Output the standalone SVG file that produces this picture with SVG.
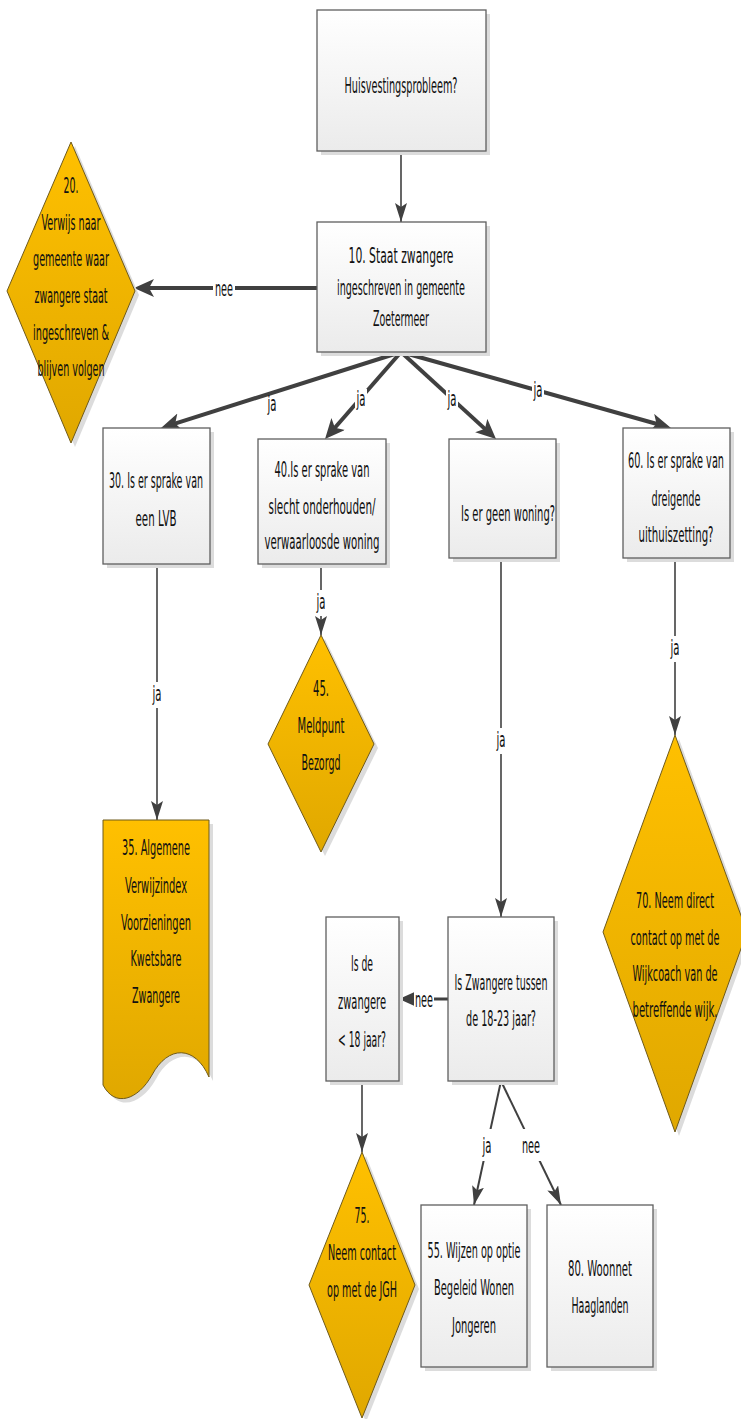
<svg xmlns="http://www.w3.org/2000/svg" width="741" height="1419" viewBox="0 0 741 1419">
<style>
.sh{fill:#dcdcdc}
.box{fill:url(#gBox);stroke:#5f5f5f;stroke-width:1.3}
.gold{fill:url(#gGold);stroke:#6f5a1a;stroke-width:1}
text{font-family:"Liberation Sans Narrow","DejaVu Sans Condensed","Liberation Sans",sans-serif;font-size:22px;fill:#111;text-anchor:middle}
.c{stroke:#404040;fill:none}
.thick{stroke-width:4}
.mid{stroke-width:3}
.thin{stroke-width:1.6}
.lb{fill:#ffffff}
</style>
<defs>
<linearGradient id="gBox" x1="0" y1="0" x2="0" y2="1"><stop offset="0" stop-color="#ffffff"/><stop offset="1" stop-color="#ebebeb"/></linearGradient>
<linearGradient id="gGold" x1="0" y1="0" x2="0" y2="1"><stop offset="0" stop-color="#ffc000"/><stop offset="1" stop-color="#e0a800"/></linearGradient>
<marker id="ab" markerUnits="userSpaceOnUse" markerWidth="24" markerHeight="20" refX="12" refY="9" orient="auto"><path d="M0,0 L20,9 L0,18 L5,9 Z" fill="#404040"/></marker>
<marker id="as" markerUnits="userSpaceOnUse" markerWidth="22" markerHeight="14" refX="19" refY="6" orient="auto"><path d="M0,0 L19,6 L0,12 L4,6 Z" fill="#404040"/></marker>
</defs>

<g id="connectors">
<line class="c thin" x1="401" y1="151" x2="401" y2="222" marker-end="url(#as)"/>
<line class="c thick" x1="317" y1="288" x2="142" y2="288" marker-end="url(#ab)"/>
<rect class="lb" x="213" y="279" width="22" height="18"/>
<text x="224" y="296" textLength="18" lengthAdjust="spacingAndGlyphs">nee</text>
<line class="c thick" x1="401" y1="352" x2="168.6" y2="425.6" marker-end="url(#ab)"/>
<text x="272" y="411" textLength="9" lengthAdjust="spacingAndGlyphs">ja</text>
<line class="c thick" x1="401" y1="352" x2="330.3" y2="433" marker-end="url(#ab)"/>
<rect class="lb" x="355" y="389" width="12" height="22"/>
<text x="361" y="406" textLength="9" lengthAdjust="spacingAndGlyphs">ja</text>
<line class="c thick" x1="401" y1="352" x2="490.1" y2="433.6" marker-end="url(#ab)"/>
<rect class="lb" x="446" y="389" width="12" height="22"/>
<text x="452" y="406" textLength="9" lengthAdjust="spacingAndGlyphs">ja</text>
<line class="c thick" x1="401" y1="352" x2="663.3" y2="425.8" marker-end="url(#ab)"/>
<rect class="lb" x="532" y="380" width="12" height="22"/>
<text x="538" y="397" textLength="9" lengthAdjust="spacingAndGlyphs">ja</text>
<line class="c thin" x1="157" y1="564" x2="157" y2="820" marker-end="url(#as)"/>
<rect class="lb" x="150" y="682" width="14" height="26"/>
<text x="157" y="701" textLength="9" lengthAdjust="spacingAndGlyphs">ja</text>
<line class="c thin" x1="321" y1="564" x2="321" y2="635" marker-end="url(#as)"/>
<rect class="lb" x="314" y="590" width="14" height="26"/>
<text x="321" y="609" textLength="9" lengthAdjust="spacingAndGlyphs">ja</text>
<line class="c thin" x1="501" y1="558" x2="501" y2="917" marker-end="url(#as)"/>
<rect class="lb" x="494" y="728" width="14" height="26"/>
<text x="501" y="747" textLength="9" lengthAdjust="spacingAndGlyphs">ja</text>
<line class="c thin" x1="675" y1="558" x2="675" y2="735" marker-end="url(#as)"/>
<rect class="lb" x="668" y="636" width="14" height="26"/>
<text x="675" y="655" textLength="9" lengthAdjust="spacingAndGlyphs">ja</text>
<line class="c mid" x1="448" y1="999" x2="407" y2="999" marker-end="url(#ab)"/>
<rect class="lb" x="414" y="989" width="20" height="20"/>
<text x="424" y="1007" textLength="18" lengthAdjust="spacingAndGlyphs">nee</text>
<line class="c thin" x1="362" y1="1081" x2="362" y2="1152" marker-end="url(#as)"/>
<line class="c" stroke-width="2" x1="501" y1="1081" x2="474" y2="1205" marker-end="url(#as)"/>
<rect class="lb" x="480" y="1129" width="14" height="32"/>
<text x="487" y="1153" textLength="9" lengthAdjust="spacingAndGlyphs">ja</text>
<line class="c" stroke-width="2" x1="501" y1="1081" x2="561" y2="1205" marker-end="url(#as)"/>
<rect class="lb" x="519" y="1129" width="24" height="32"/>
<text x="531" y="1153" textLength="18" lengthAdjust="spacingAndGlyphs">nee</text>
</g>

<g id="n-start">
<rect class="sh" x="321" y="14" width="169" height="141"/>
<rect class="box" x="317" y="10" width="169" height="141"/>
<text x="401" y="93" textLength="113" lengthAdjust="spacingAndGlyphs">Huisvestingsprobleem?</text>
</g>

<g id="n10">
<rect class="sh" x="321" y="226" width="169" height="130"/>
<rect class="box" x="317" y="222" width="169" height="130"/>
<text x="401" y="263" textLength="105" lengthAdjust="spacingAndGlyphs">10.  Staat zwangere</text>
<text x="401" y="295" textLength="128" lengthAdjust="spacingAndGlyphs">ingeschreven in gemeente</text>
<text x="401" y="326" textLength="56" lengthAdjust="spacingAndGlyphs">Zoetermeer</text>
</g>

<g id="n20">
<polygon class="sh" points="75,146 139,295 75,447 11,295"/>
<polygon class="gold" points="71,142 135,291 71,443 7,291"/>
<text x="71" y="193" textLength="15" lengthAdjust="spacingAndGlyphs">20.</text>
<text x="71" y="230" textLength="59" lengthAdjust="spacingAndGlyphs">Verwijs naar</text>
<text x="71" y="266" textLength="76" lengthAdjust="spacingAndGlyphs">gemeente waar</text>
<text x="71" y="303" textLength="73" lengthAdjust="spacingAndGlyphs">zwangere staat</text>
<text x="71" y="340" textLength="76" lengthAdjust="spacingAndGlyphs">ingeschreven &amp;</text>
<text x="71" y="376" textLength="67" lengthAdjust="spacingAndGlyphs">blijven volgen</text>
</g>

<g id="n30">
<rect class="sh" x="107" y="432" width="107" height="136"/>
<rect class="box" x="103" y="428" width="107" height="136"/>
<text x="156" y="488" textLength="94" lengthAdjust="spacingAndGlyphs">30. Is er sprake van</text>
<text x="156" y="526" textLength="41" lengthAdjust="spacingAndGlyphs">een LVB</text>
</g>

<g id="n40">
<rect class="sh" x="262" y="443" width="128" height="125"/>
<rect class="box" x="258" y="439" width="128" height="125"/>
<text x="322" y="477" textLength="95" lengthAdjust="spacingAndGlyphs">40.Is er sprake van</text>
<text x="322" y="514" textLength="107" lengthAdjust="spacingAndGlyphs">slecht onderhouden/</text>
<text x="322" y="549" textLength="115" lengthAdjust="spacingAndGlyphs">verwaarloosde woning</text>
</g>

<g id="n-geen">
<rect class="sh" x="453" y="443" width="107" height="119"/>
<rect class="box" x="449" y="439" width="107" height="119"/>
<text x="508" y="521" textLength="94" lengthAdjust="spacingAndGlyphs">Is er  geen woning?</text>
</g>

<g id="n60">
<rect class="sh" x="627" y="432" width="107" height="130"/>
<rect class="box" x="623" y="428" width="107" height="130"/>
<text x="676" y="468" textLength="96" lengthAdjust="spacingAndGlyphs">60. Is er sprake van</text>
<text x="676" y="506" textLength="49" lengthAdjust="spacingAndGlyphs">dreigende</text>
<text x="676" y="542" textLength="75" lengthAdjust="spacingAndGlyphs">uithuiszetting?</text>
</g>

<g id="n35">
<path class="sh" d="M107,824 H213 V1081 C199,1049 172,1049 156,1079 C142,1104 119,1112 107,1089 Z"/>
<path class="gold" d="M103,820 H209 V1077 C195,1045 168,1045 152,1075 C138,1100 115,1108 103,1085 Z"/>
<text x="156" y="855" textLength="68" lengthAdjust="spacingAndGlyphs">35. Algemene</text>
<text x="156" y="893" textLength="62" lengthAdjust="spacingAndGlyphs">Verwijzindex</text>
<text x="156" y="930" textLength="70" lengthAdjust="spacingAndGlyphs">Voorzieningen</text>
<text x="156" y="966" textLength="51" lengthAdjust="spacingAndGlyphs">Kwetsbare</text>
<text x="156" y="1003" textLength="48" lengthAdjust="spacingAndGlyphs">Zwangere</text>
</g>

<g id="n45">
<polygon class="sh" points="325,639 378,748 325,856 272,748"/>
<polygon class="gold" points="321,635 374,744 321,852 268,744"/>
<text x="321" y="696" textLength="16" lengthAdjust="spacingAndGlyphs">45.</text>
<text x="321" y="733" textLength="47" lengthAdjust="spacingAndGlyphs">Meldpunt</text>
<text x="321" y="770" textLength="39" lengthAdjust="spacingAndGlyphs">Bezorgd</text>
</g>

<g id="n70">
<polygon class="sh" points="679,739 751,936 679,1136 607,936"/>
<polygon class="gold" points="675,735 747,932 675,1132 603,932"/>
<text x="675" y="908" textLength="78" lengthAdjust="spacingAndGlyphs">70. Neem direct</text>
<text x="675" y="945" textLength="89" lengthAdjust="spacingAndGlyphs">contact op met de</text>
<text x="675" y="981" textLength="85" lengthAdjust="spacingAndGlyphs">Wijkcoach van de</text>
<text x="675" y="1017" textLength="85" lengthAdjust="spacingAndGlyphs">betreffende wijk.</text>
</g>

<g id="n-tussen">
<rect class="sh" x="452" y="921" width="106" height="164"/>
<rect class="box" x="448" y="917" width="106" height="164"/>
<text x="501" y="990" textLength="93" lengthAdjust="spacingAndGlyphs">Is Zwangere tussen</text>
<text x="501" y="1026" textLength="70" lengthAdjust="spacingAndGlyphs">de 18-23 jaar?</text>
</g>

<g id="n-onder18">
<rect class="sh" x="330" y="921" width="73" height="164"/>
<rect class="box" x="326" y="917" width="73" height="164"/>
<text x="362" y="971" textLength="22" lengthAdjust="spacingAndGlyphs">Is de</text>
<text x="362" y="1009" textLength="48" lengthAdjust="spacingAndGlyphs">zwangere</text>
<text x="362" y="1047" textLength="48" lengthAdjust="spacingAndGlyphs">&lt; 18 jaar?</text>
</g>

<g id="n75">
<polygon class="sh" points="366,1156 419,1289 366,1422 313,1289"/>
<polygon class="gold" points="362,1152 415,1285 362,1418 309,1285"/>
<text x="362" y="1223" textLength="15" lengthAdjust="spacingAndGlyphs">75.</text>
<text x="362" y="1260" textLength="68" lengthAdjust="spacingAndGlyphs">Neem contact</text>
<text x="362" y="1297" textLength="70" lengthAdjust="spacingAndGlyphs">op met de JGH</text>
</g>

<g id="n55">
<rect class="sh" x="425" y="1209" width="106" height="162"/>
<rect class="box" x="421" y="1205" width="106" height="162"/>
<text x="474" y="1258" textLength="93" lengthAdjust="spacingAndGlyphs">55. Wijzen op optie</text>
<text x="474" y="1295" textLength="80" lengthAdjust="spacingAndGlyphs">Begeleid Wonen</text>
<text x="474" y="1333" textLength="44" lengthAdjust="spacingAndGlyphs">Jongeren</text>
</g>

<g id="n80">
<rect class="sh" x="551" y="1209" width="106" height="162"/>
<rect class="box" x="547" y="1205" width="106" height="162"/>
<text x="600" y="1276" textLength="64" lengthAdjust="spacingAndGlyphs">80. Woonnet</text>
<text x="600" y="1313" textLength="57" lengthAdjust="spacingAndGlyphs">Haaglanden</text>
</g>
</svg>
